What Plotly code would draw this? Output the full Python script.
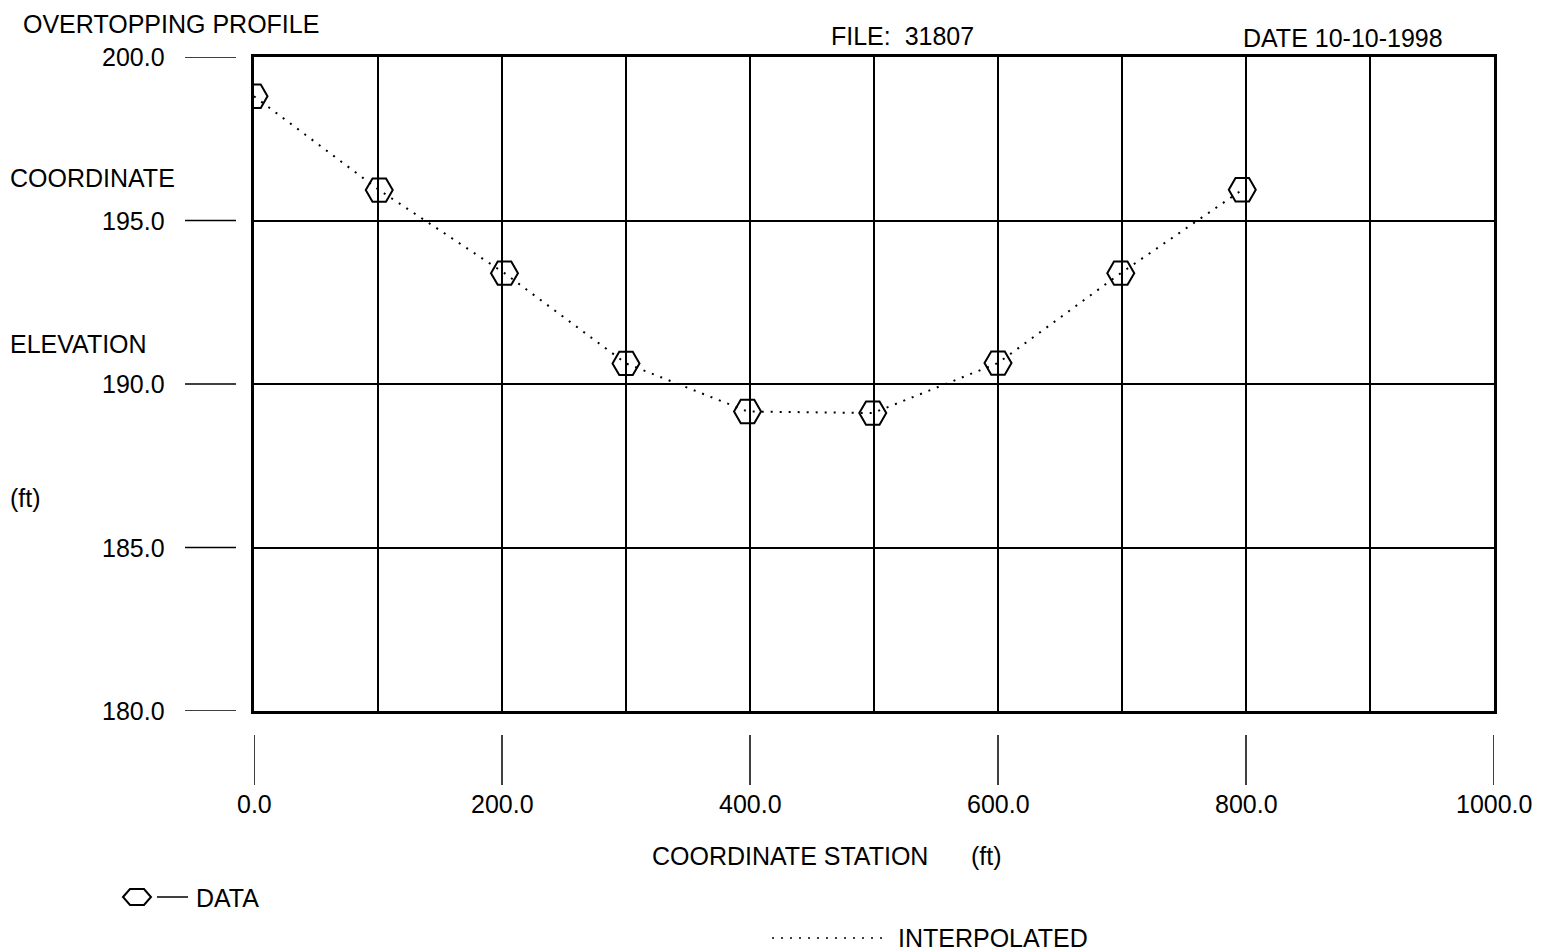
import plotly.graph_objects as go

# ---- data ----
stations = [0, 101, 202, 300, 398, 499, 600, 699, 797]
elevations = [198.8, 195.93, 193.39, 190.63, 189.16, 189.11, 190.64, 193.39, 195.94]

x_grid_vals = list(range(0, 1001, 100))
x_label_vals = [0, 200, 400, 600, 800, 1000]
x_label_text = ["0.0", "200.0", "400.0", "600.0", "800.0", "1000.0"]
y_label_vals = [200, 195, 190, 185, 180]
y_label_text = ["200.0", "195.0", "190.0", "185.0", "180.0"]

W, H = 1543, 952
L, R, T, B = 254, 49, 57, 241
PW, PH = W - L - R, H - T - B
FONT = "Liberation Sans, Arial, sans-serif"
FS = 25


def px(xp):
    return (xp - L) / PW


def py(yp):
    return (H - B - yp) / PH


fig = go.Figure()
fig.add_trace(go.Scatter(
    x=stations, y=elevations, mode="lines", name="INTERPOLATED",
    line=dict(color="black", width=2, dash="2px,7px"), hoverinfo="skip"))
fig.add_trace(go.Scatter(
    x=stations, y=elevations, mode="markers", name="DATA",
    marker=dict(symbol="hexagon2-open", size=27, color="black",
                line=dict(width=2, color="black"))))

shapes = []
annotations = []

# y tick marks (detached) and labels
for v, t in zip(y_label_vals, y_label_text):
    shapes.append(dict(type="line", xref="paper", yref="y", x0=px(185), x1=px(236),
                       y0=v, y1=v, line=dict(color="black", width=1.5)))
    annotations.append(dict(xref="paper", yref="y", x=px(167), y=v, text=t,
                            showarrow=False, xanchor="right", yanchor="middle",
                            font=dict(family=FONT, size=FS, color="black")))

# x tick marks (detached) and labels
for v, t in zip(x_label_vals, x_label_text):
    shapes.append(dict(type="line", xref="x", yref="paper", x0=v, x1=v,
                       y0=py(735), y1=py(785), line=dict(color="black", width=1.5)))
    annotations.append(dict(xref="x", yref="paper", x=v, y=py(804), text=t,
                            showarrow=False, xanchor="center", yanchor="middle",
                            font=dict(family=FONT, size=FS, color="black")))


def txt(x, y, s, anchor="left"):
    annotations.append(dict(xref="paper", yref="paper", x=px(x), y=py(y), text=s,
                            showarrow=False, xanchor=anchor, yanchor="middle",
                            font=dict(family=FONT, size=FS, color="black")))


txt(21, 24, "OVERTOPPING PROFILE")
txt(829, 36, "FILE:\u00a0 31807")
txt(1241, 38, "DATE 10-10-1998")
txt(8, 178, "COORDINATE")
txt(8, 344, "ELEVATION")
txt(8, 498, "(ft)")
txt(650, 856, "COORDINATE STATION")
txt(969, 856, "(ft)")
txt(194, 898, "DATA")
txt(896, 938, "INTERPOLATED")

# legend symbols
hx = [(123, 897), (130, 889), (144, 889), (151, 897), (144, 905), (130, 905)]
path = "M " + " L ".join(f"{px(a):.5f},{py(b):.5f}" for a, b in hx) + " Z"
shapes.append(dict(type="path", xref="paper", yref="paper", path=path,
                   line=dict(color="black", width=2)))
shapes.append(dict(type="line", xref="paper", yref="paper", x0=px(157), x1=px(188),
                   y0=py(897), y1=py(897), line=dict(color="black", width=1.5)))
shapes.append(dict(type="line", xref="paper", yref="paper", x0=px(772), x1=px(882),
                   y0=py(938), y1=py(938), line=dict(color="black", width=1.5, dash="2px,7px")))

fig.update_layout(
    width=W, height=H,
    margin=dict(l=L, r=R, t=T, b=B, pad=0),
    paper_bgcolor="white", plot_bgcolor="white",
    showlegend=False,
    shapes=shapes, annotations=annotations,
    xaxis=dict(range=[0, 1000], tickvals=x_grid_vals, showticklabels=False,
               showgrid=True, gridcolor="black", gridwidth=2, zeroline=False,
               showline=True, linecolor="black", linewidth=3, mirror=True, ticks=""),
    yaxis=dict(range=[180, 200], tickvals=y_label_vals, showticklabels=False,
               showgrid=True, gridcolor="black", gridwidth=2, zeroline=False,
               showline=True, linecolor="black", linewidth=3, mirror=True, ticks=""),
)

fig.write_html("out.html", config={"displayModeBar": False},
               post_script="document.body.style.margin='0';document.body.style.overflow='hidden';")
